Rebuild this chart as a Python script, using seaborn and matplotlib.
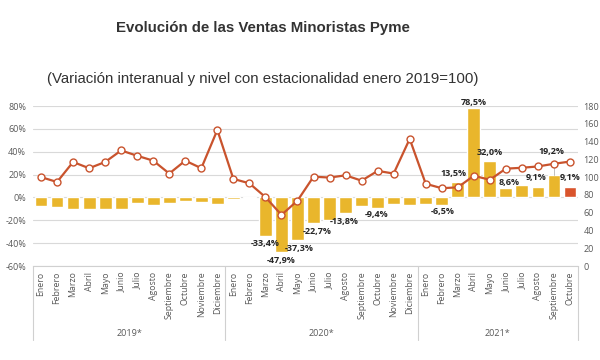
import numpy as np
import pandas as pd
import matplotlib
matplotlib.use('Agg')
import matplotlib.pyplot as plt
import matplotlib.transforms as mtransforms
import seaborn as sns

# Data
months = ['Enero', 'Febrero', 'Marzo', 'Abril', 'Mayo', 'Junio', 'Julio',
          'Agosto', 'Septiembre', 'Octubre', 'Noviembre', 'Diciembre']
years = ['2019*', '2020*', '2021*']
months_per_year = [12, 12, 10]

# interannual variation (%)
var_2019 = [-7.8, -8.0, -10.0, -10.0, -10.5, -10.0, -4.7, -7.0, -5.0, -3.5, -4.1, -5.5]
var_2020 = [-1.5, -0.9, -33.4, -47.9, -37.3, -22.7, -19.5, -13.8, -7.8, -9.4, -5.8, -6.4]
var_2021 = [-5.5, -6.5, 13.5, 78.5, 32.0, 8.6, 10.8, 9.1, 19.2, 9.1]

# seasonally adjusted level (Jan 2019 = 100)
idx_2019 = [100, 94.5, 117, 110, 117, 130, 124, 118.5, 104, 118.5, 110, 153]
idx_2020 = [98, 93, 77.5, 57.5, 73.5, 100.5, 99.5, 102, 96, 107, 104, 143]
idx_2021 = [92.5, 87.5, 88.5, 101.5, 97, 109.5, 110.5, 112, 115, 117.5]

# bar labels shown in the chart: (year, month, text)
bar_labels = [('2020*', 'Marzo', '-33,4%'), ('2020*', 'Abril', '-47,9%'),
              ('2020*', 'Mayo', '-37,3%'), ('2020*', 'Junio', '-22,7%'),
              ('2020*', 'Agosto', '-13,8%'), ('2020*', 'Octubre', '-9,4%'),
              ('2021*', 'Febrero', '-6,5%'), ('2021*', 'Marzo', '13,5%'),
              ('2021*', 'Abril', '78,5%'), ('2021*', 'Mayo', '32,0%'),
              ('2021*', 'Junio', '8,6%'), ('2021*', 'Agosto', '9,1%'),
              ('2021*', 'Septiembre', '19,2%'), ('2021*', 'Octubre', '9,1%')]

# Build the table
rows = []
for y, n, v, l in zip(years, months_per_year,
                      [var_2019, var_2020, var_2021],
                      [idx_2019, idx_2020, idx_2021]):
    for m, vv, ll in zip(months[:n], v, l):
        rows.append({'year': y, 'month': m, 'key': f'{m} {y}', 'var': vv, 'idx': ll})
df = pd.DataFrame(rows)
df['pos'] = np.arange(len(df))
n = len(df)

bar_col = '#E9B62C'
last_col = '#D9542C'
line_col = '#C9532D'
text_col = '#595959'

sns.set_style('white')
plt.rcParams['font.family'] = ['Open Sans', 'DejaVu Sans']

fig = plt.figure(figsize=(6, 3.6), dpi=100)
ax = fig.add_axes([33 / 600, 1 - 266 / 360, 545 / 600, 160 / 360])

palette = {k: bar_col for k in df['key']}
palette[df['key'].iloc[-1]] = last_col
sns.barplot(data=df, x='key', y='var', hue='key', palette=palette,
            legend=False, width=0.8, ax=ax, saturation=1)

ax2 = ax.twinx()
sns.lineplot(data=df, x='pos', y='idx', ax=ax2, color=line_col, linewidth=1.6,
             marker='o', markersize=5, markerfacecolor='white',
             markeredgecolor=line_col, markeredgewidth=1)

ax.set_xlim(-0.5, n - 0.5)
ax.set_ylim(-60, 80)
ax.set_yticks(range(-60, 81, 20))
ax.set_yticklabels([f'{t}%' for t in range(-60, 81, 20)])
ax2.set_ylim(0, 180)
ax2.set_yticks(range(0, 181, 20))

ax.grid(axis='y', color='#D9D9D9', linewidth=0.8)
ax.set_axisbelow(True)
for a in (ax, ax2):
    for s in a.spines.values():
        s.set_visible(False)
    a.set_xlabel('')
    a.set_ylabel('')
ax.spines['bottom'].set_visible(True)
ax.spines['bottom'].set_color('#D0D0D0')
ax.spines['bottom'].set_linewidth(0.8)

ax.tick_params(axis='y', length=0, pad=5, labelsize=6.5, labelcolor=text_col)
ax2.tick_params(axis='y', length=0, pad=4, labelsize=6.5, labelcolor=text_col)
ax.set_xticks(range(n))
ax.set_xticklabels(df['month'], rotation=90, fontsize=6.3, color=text_col)
ax.tick_params(axis='x', length=0, pad=4)

# year group separators and labels
trans = mtransforms.blended_transform_factory(ax.transData, ax.transAxes)
bounds = np.concatenate([[0], np.cumsum(months_per_year)]) - 0.5
for b in bounds:
    ax.plot([b, b], [0, -0.46], transform=trans, color='#D0D0D0',
            linewidth=0.8, clip_on=False)
for y, lo, hi in zip(years, bounds[:-1], bounds[1:]):
    ax.text((lo + hi) / 2, -0.42, y, transform=trans, ha='center', va='center',
            fontsize=6.5, color=text_col)

# value labels on bars: offsets in points
offsets = {'-33,4%': (0, -6), '-47,9%': (0, -6), '-37,3%': (1, -6),
           '-22,7%': (3, -5.5), '-13,8%': (-1, -6), '-9,4%': (-1, -4.5),
           '-6,5%': (1, -5), '13,5%': (-3, 6), '78,5%': (0, 4),
           '32,0%': (0, 6), '8,6%': (2, 4), '9,1%': (-1, 7),
           '19,2%': (-2, 17)}
for y, m, t in bar_labels:
    r = df[(df['year'] == y) & (df['month'] == m)].iloc[0]
    dx, dy = offsets.get(t, (0, 0))
    if y == '2021*' and m == 'Octubre':
        dx, dy = (0, 7)
    ax.annotate(t, (r['pos'], r['var']), xytext=(dx, dy),
                textcoords='offset points', ha='center', va='center',
                fontsize=6.5, fontweight='bold', color='#262626',
                zorder=5, annotation_clip=False)
    if t == '19,2%':
        # leader line from the bar top to the label
        ax.plot([r['pos'], r['pos']], [r['var'], r['var'] + 13],
                color='#BFBFBF', linewidth=0.7, zorder=1)

fig.text(263 / 600, 1 - 28 / 360, 'Evolución de las Ventas Minoristas Pyme',
         ha='center', va='center', fontsize=10.8, fontweight='bold',
         color='#333333', family=['Liberation Sans', 'DejaVu Sans'])
fig.text(263 / 600, 1 - 79 / 360,
         '(Variación interanual y nivel con estacionalidad enero 2019=100)',
         ha='center', va='center', fontsize=10.8, color='#333333',
         family=['Liberation Sans', 'DejaVu Sans'])

fig.savefig('out.png', dpi=100)
